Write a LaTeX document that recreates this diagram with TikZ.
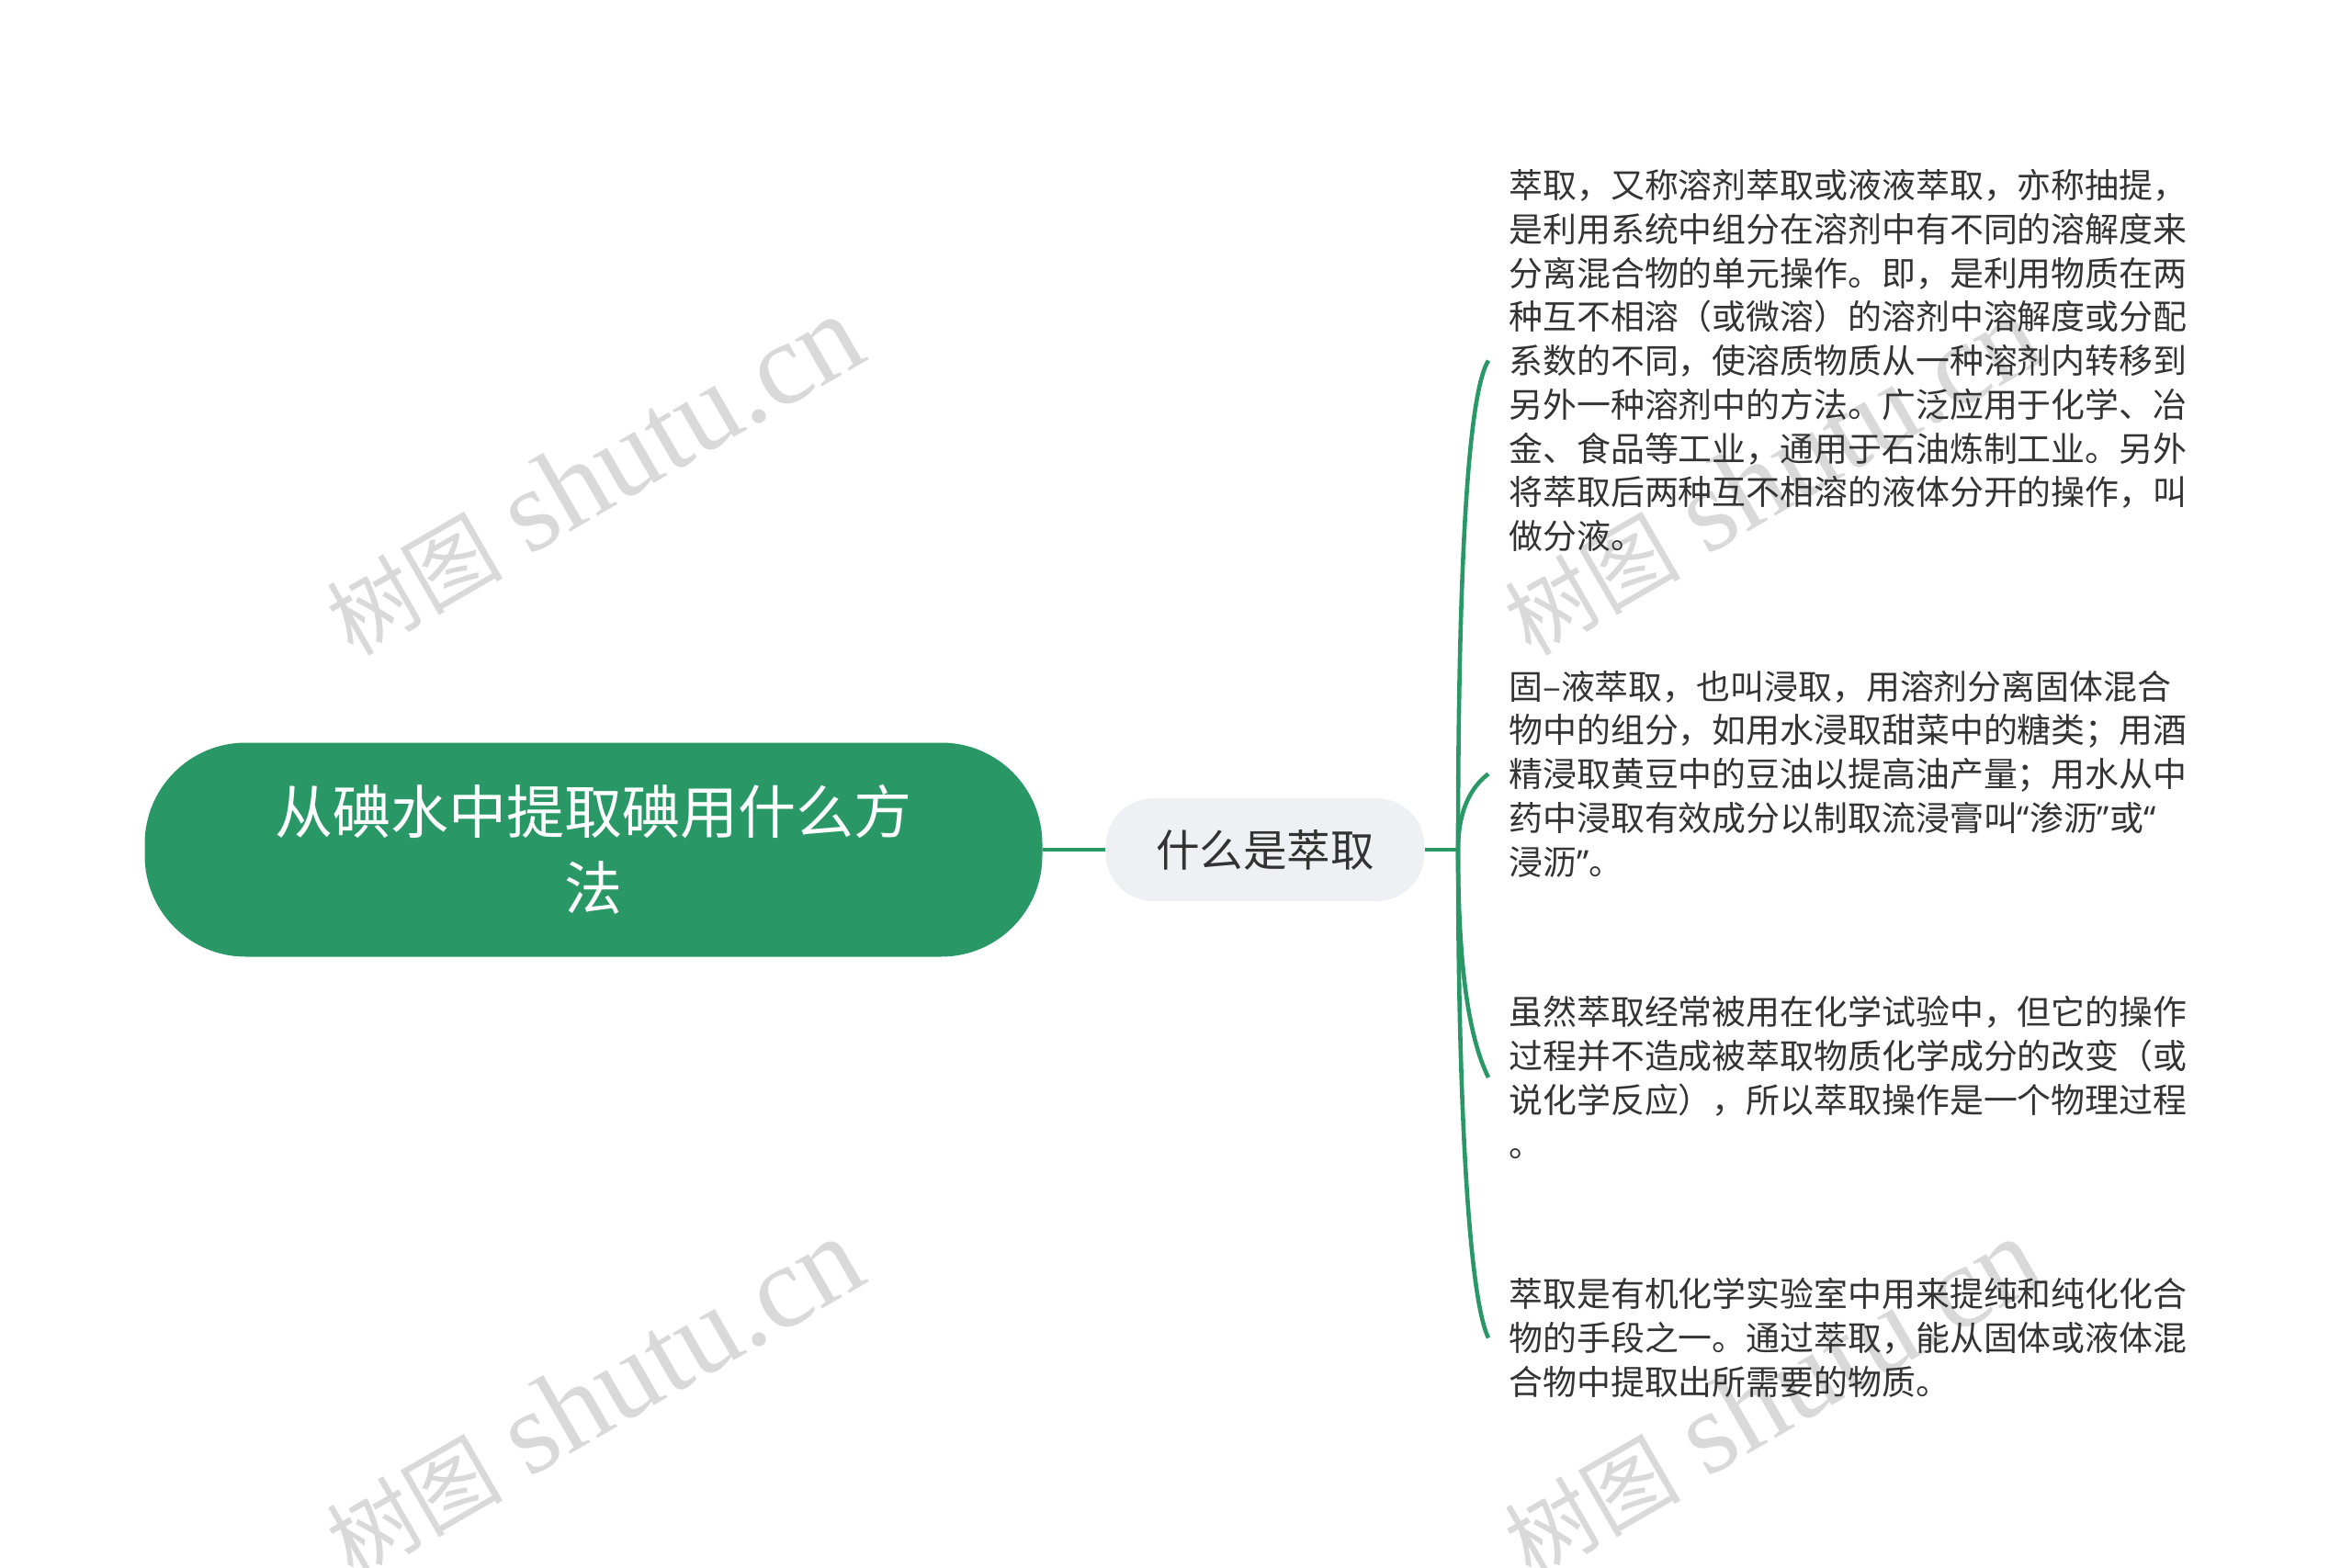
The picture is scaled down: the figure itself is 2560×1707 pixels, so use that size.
\documentclass[tikz,border=0pt]{standalone}
\usepackage{fontspec}
\setmainfont{Noto Sans CJK SC}
\newfontfamily\wmlatin{Liberation Serif}
\newfontfamily\quotefont{Noto Sans}
\usetikzlibrary{calc}

\definecolor{rootgreen}{RGB}{41,152,102}
\definecolor{topicgray}{RGB}{238,240,243}
\definecolor{inkgray}{RGB}{51,51,51}
\definecolor{wmgray}{RGB}{217,217,217}

\newcommand{\openq}{{\quotefont “}}
\newcommand{\closeq}{{\quotefont ”}}

\begin{document}
\begin{tikzpicture}[x = 0.5pt, y = -0.5pt,
    root/.style = {fill = rootgreen, text = white, rounded corners = 55pt,
        minimum width = 488.5pt, minimum height = 116.5pt, align = center,
        font = \fontsize{31.5}{41.5}\selectfont},
    topic/.style = {fill = topicgray, text = inkgray, rounded corners = 26pt,
        minimum width = 173.5pt, minimum height = 56pt,
        font = \fontsize{23.8}{28}\selectfont},
    leaf/.style = {anchor = west, text = inkgray, align = left,
        inner xsep = 11pt, inner ysep = 0pt,
        font = \fontsize{18.45}{23.85}\selectfont},
    link/.style = {draw = rootgreen, line width = 2.3pt},
    wmark/.style = {text = wmgray, rotate = 30, inner sep = 0pt}]
    \useasboundingbox (0, 0) rectangle (2560, 1707);

    % watermark
    \foreach \wx/\wy [count = \i] in {646/518, 1928/518, 646/1522, 1928/1522}
        \node[wmark] (wm\i) at (\wx, \wy)
            {{\fontsize{48}{48}\selectfont 树图}\hspace{14pt}{\wmlatin\fontsize{64}{64}\selectfont shutu.cn}};

    \node[root] (root) at (646, 925) {从碘水中提取碘用什么方\\法};
    \node[topic] (what) at (1377, 925) {什么是萃取};
    \coordinate (fork) at (1587, 925);

    \node[leaf] (def) at (1620, 392.5) {萃取，又称溶剂萃取或液液萃取，亦称抽提，\\
        是利用系统中组分在溶剂中有不同的溶解度来\\
        分离混合物的单元操作。即，是利用物质在两\\
        种互不相溶（或微溶）的溶剂中溶解度或分配\\
        系数的不同，使溶质物质从一种溶剂内转移到\\
        另外一种溶剂中的方法。广泛应用于化学、冶\\
        金、食品等工业，通用于石油炼制工业。另外\\
        将萃取后两种互不相溶的液体分开的操作，叫\\
        做分液。};
    \node[leaf] (solid) at (1620, 842.5) {固–液萃取，也叫浸取，用溶剂分离固体混合\\
        物中的组分，如用水浸取甜菜中的糖类；用酒\\
        精浸取黄豆中的豆油以提高油产量；用水从中\\
        药中浸取有效成分以制取流浸膏叫\openq 渗沥\closeq 或\openq\\
        浸沥\closeq 。};
    \node[leaf] (phys) at (1620, 1173) {虽然萃取经常被用在化学试验中，但它的操作\\
        过程并不造成被萃取物质化学成分的改变（或\\
        说化学反应），所以萃取操作是一个物理过程\\
        。};
    \node[leaf] (lab) at (1620, 1456.5) {萃取是有机化学实验室中用来提纯和纯化化合\\
        物的手段之一。通过萃取，能从固体或液体混\\
        合物中提取出所需要的物质。};

    \draw[link] (root) -- (what);
    \draw[link] (what) -- (fork);
    \draw[link] (fork) .. controls +(0, -266) and +(-25, 40) .. (def.west);
    \draw[link] (fork) .. controls +(0, -41) and +(-20, 15) .. (solid.west);
    \draw[link] (fork) .. controls +(0, 124) and +(-22, -45) .. (phys.west);
    \draw[link] (fork) .. controls +(0, 266) and +(-22, -45) .. (lab.west);
\end{tikzpicture}
\end{document}
